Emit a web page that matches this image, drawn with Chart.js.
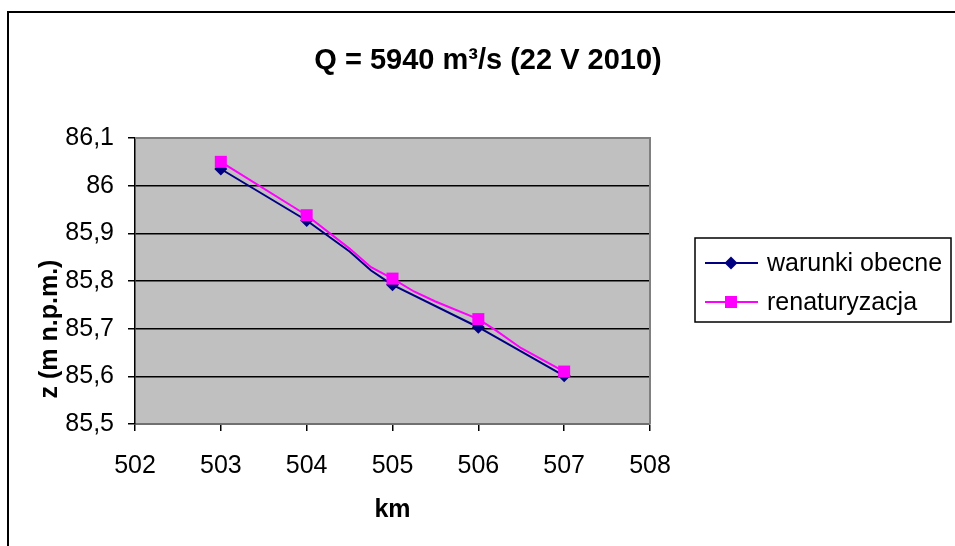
<!DOCTYPE html>
<html><head><meta charset="utf-8">
<script src="https://cdn.jsdelivr.net/npm/chart.js@4/dist/chart.umd.min.js"></script>
<style>html,body{margin:0;padding:0;background:#fff}#wrap{width:955px;height:546px;position:relative}</style>
</head><body><div id="wrap"><canvas id="c" width="955" height="546"></canvas></div>
<script>
const chartTitle = 'Q = 5940 m³/s (22 V 2010)';
const xTitle = 'km';
const yTitle = 'z (m n.p.m.)';
const seriesNames = ['warunki obecne', 'renaturyzacja'];
const kmWarunki = [503, 504, 504.5, 504.75, 505, 506, 507];
const zWarunki = [86.035, 85.927, 85.862, 85.822, 85.792, 85.703, 85.601];
const kmRenat = [503, 504, 504.5, 504.75, 505, 505.25, 505.5, 506, 506.2, 506.5, 507];
const zRenat = [86.05, 85.938, 85.868, 85.829, 85.805, 85.778, 85.757, 85.72, 85.697, 85.659, 85.61];
const xTicks = [502, 503, 504, 505, 506, 507, 508];
const yTicks = [85.5, 85.6, 85.7, 85.8, 85.9, 86.0, 86.1];

const FONT = '"Liberation Sans", Arial, sans-serif';
const NAVY = '#000080', MAG = '#FF00FF';

function pts(xs, ys) { return xs.map((x, i) => ({ x: x, y: ys[i] })); }
function fmt(v) { return (Math.round(v * 10) / 10).toString().replace('.', ','); }

function drawDiamond(ctx, x, y, r, color) {
  ctx.fillStyle = color;
  ctx.beginPath();
  ctx.moveTo(x, y - r); ctx.lineTo(x + r, y); ctx.lineTo(x, y + r); ctx.lineTo(x - r, y);
  ctx.closePath(); ctx.fill();
}
function drawSquare(ctx, x, y, h, color) {
  ctx.fillStyle = color;
  ctx.fillRect(x - h, y - h, 2 * h, 2 * h);
}

const deco = {
  id: 'deco',
  beforeDraw(chart) {
    const { ctx, chartArea: a } = chart;
    ctx.save();
    ctx.fillStyle = '#fff';
    ctx.fillRect(0, 0, chart.width, chart.height);
    ctx.fillStyle = '#C0C0C0';
    ctx.fillRect(a.left, a.top, a.right - a.left, a.bottom - a.top);
    ctx.restore();
  },
  afterDraw(chart) {
    const { ctx, chartArea: a } = chart;
    ctx.save();
    ctx.strokeStyle = '#808080';
    ctx.lineWidth = 2;
    ctx.beginPath();
    ctx.moveTo(a.left, a.top); ctx.lineTo(a.right, a.top); ctx.lineTo(a.right, a.bottom);
    ctx.stroke();
    ctx.strokeStyle = '#000';
    ctx.lineWidth = 2;
    ctx.strokeRect(8, 12, 1000, 600);
    ctx.fillStyle = '#000';
    ctx.font = 'bold 29px ' + FONT;
    ctx.textAlign = 'center';
    ctx.textBaseline = 'middle';
    ctx.fillText(chartTitle, 488, 61);
    ctx.font = 'bold 25px ' + FONT;
    ctx.fillText(xTitle, (a.left + a.right) / 2, 510);
    ctx.save();
    ctx.translate(50, 329);
    ctx.rotate(-Math.PI / 2);
    ctx.fillText(yTitle, 0, 0);
    ctx.restore();
    const lx = 695, ly = 238, lw = 256, lh = 84;
    ctx.strokeStyle = '#000';
    ctx.lineWidth = 1.5;
    ctx.strokeRect(lx, ly, lw, lh);
    const rows = [
      { name: seriesNames[0], color: NAVY, y: 263, mark: 'd' },
      { name: seriesNames[1], color: MAG, y: 302, mark: 's' }
    ];
    ctx.font = '25px ' + FONT;
    ctx.textAlign = 'left';
    rows.forEach(r => {
      ctx.strokeStyle = r.color;
      ctx.lineWidth = 2;
      ctx.beginPath(); ctx.moveTo(705, r.y); ctx.lineTo(758, r.y); ctx.stroke();
      if (r.mark === 'd') drawDiamond(ctx, 731, r.y, 6.5, r.color);
      else drawSquare(ctx, 731, r.y, 6, r.color);
      ctx.fillStyle = '#000';
      ctx.fillText(r.name, 767, r.y + 1);
    });
    ctx.restore();
  }
};

const markerRadius = (xs, r) => (c) => Number.isInteger(xs[c.dataIndex]) ? r : 0;

new Chart(document.getElementById('c'), {
  type: 'line',
  data: {
    datasets: [
      {
        label: seriesNames[0],
        data: pts(kmWarunki, zWarunki),
        borderColor: NAVY, backgroundColor: NAVY,
        borderWidth: 2,
        pointStyle: 'rectRot',
        pointRadius: markerRadius(kmWarunki, 6.5),
        pointBorderWidth: 0,
        tension: 0,
        order: 1
      },
      {
        label: seriesNames[1],
        data: pts(kmRenat, zRenat),
        borderColor: MAG, backgroundColor: MAG,
        borderWidth: 2,
        pointStyle: 'rect',
        pointRadius: markerRadius(kmRenat, 8.5),
        pointBorderWidth: 0,
        tension: 0,
        order: 0
      }
    ]
  },
  options: {
    responsive: false,
    animation: false,
    devicePixelRatio: 1,
    layout: { padding: { left: 0, right: 305, top: 138, bottom: 0 } },
    plugins: { legend: { display: false }, title: { display: false }, tooltip: { enabled: false } },
    scales: {
      x: {
        type: 'linear',
        min: xTicks[0], max: xTicks[xTicks.length - 1],
        afterBuildTicks: (s) => { s.ticks = xTicks.map(v => ({ value: v })); },
        afterFit: (s) => { s.height = 122; },
        grid: { drawOnChartArea: false, drawTicks: true, tickLength: 7, color: '#000', tickColor: '#000', lineWidth: 1.5 },
        border: { display: true, color: '#707070', width: 2 },
        ticks: { color: '#000', font: { family: FONT, size: 25 }, padding: 20, maxRotation: 0, autoSkip: false, callback: (v) => String(v) }
      },
      y: {
        type: 'linear',
        min: yTicks[0], max: yTicks[yTicks.length - 1],
        afterBuildTicks: (s) => { s.ticks = yTicks.map(v => ({ value: v })); },
        afterFit: (s) => { s.width = 135; },
        grid: {
          drawTicks: true, tickLength: 7, tickColor: '#000', lineWidth: 1.5,
          color: (c) => (c.tick && (c.tick.value > 86.05 || c.tick.value < 85.55)) ? 'rgba(0,0,0,0)' : '#000'
        },
        border: { display: true, color: '#000', width: 1.5 },
        ticks: { color: '#000', font: { family: FONT, size: 25 }, padding: 14, autoSkip: false, callback: (v) => fmt(v) }
      }
    }
  },
  plugins: [deco]
});
</script>
</body></html>
